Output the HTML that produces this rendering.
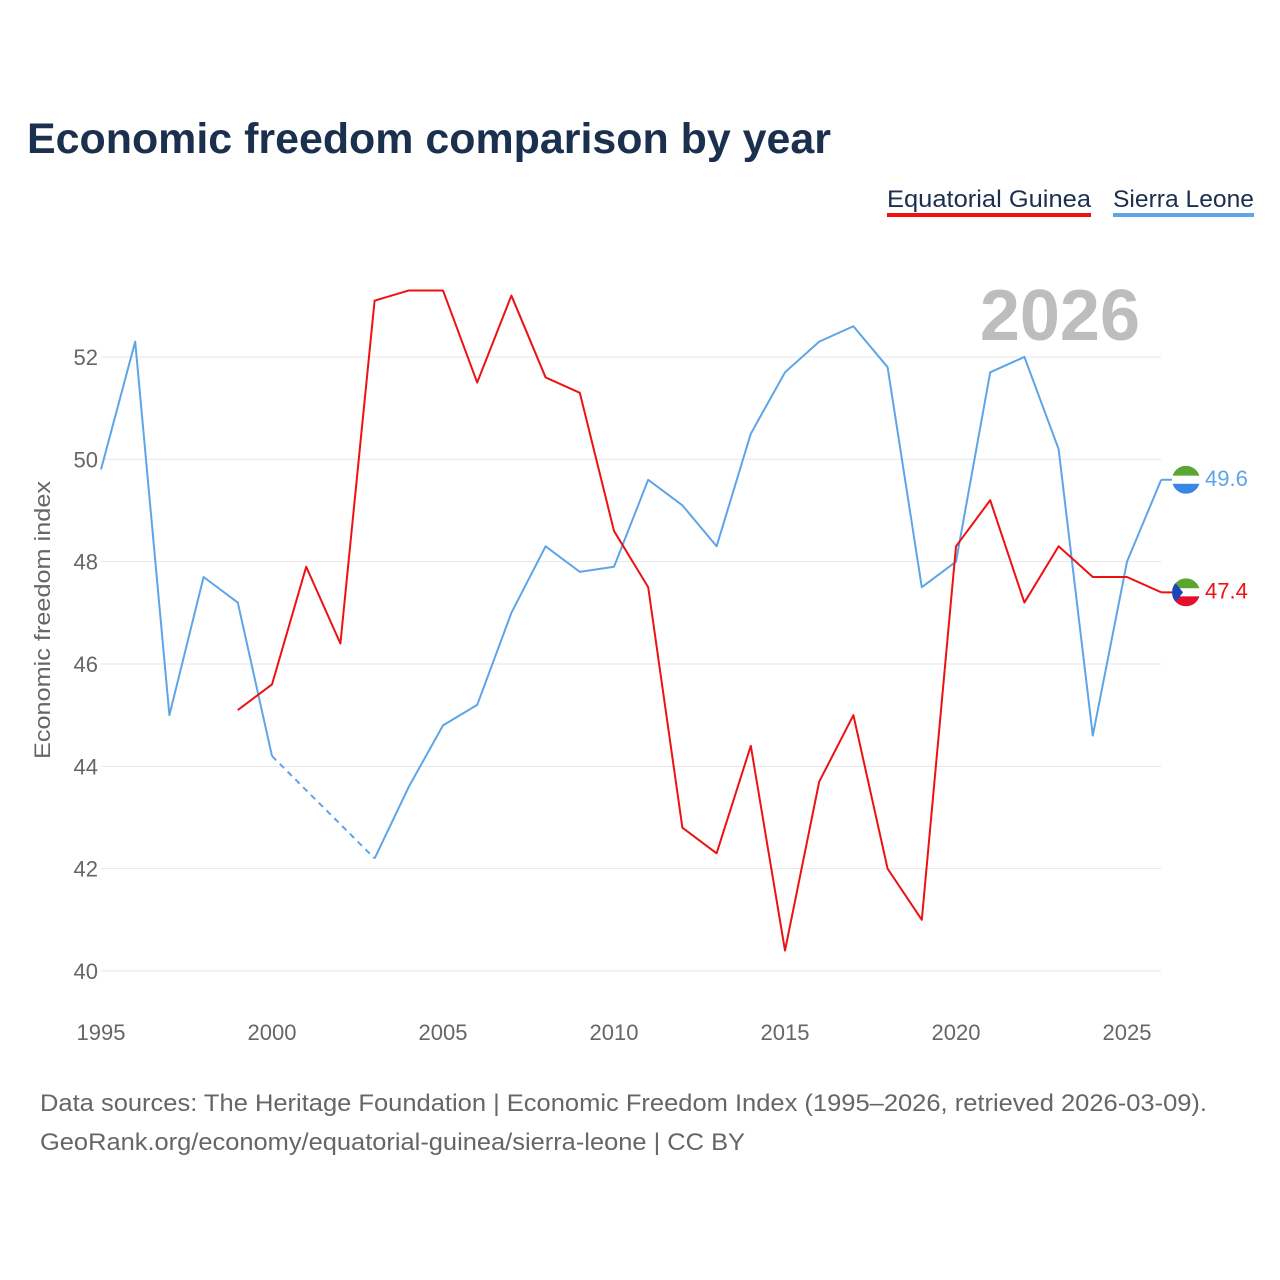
<!DOCTYPE html>
<html><head><meta charset="utf-8"><style>
body{margin:0;background:#fff;font-family:"Liberation Sans",sans-serif;}
#wrap{position:relative;width:1280px;height:1280px;overflow:hidden}
</style></head><body><div id="wrap">
<svg id="chart" width="1280" height="1280" font-family="Liberation Sans, sans-serif">
<text x="27" y="153" font-size="43" font-weight="bold" fill="#1b2f4e" textLength="804" lengthAdjust="spacingAndGlyphs">Economic freedom comparison by year</text>
<g><text x="887" y="207" font-size="24" fill="#1b2f4e" textLength="204" lengthAdjust="spacingAndGlyphs">Equatorial Guinea</text><rect x="887" y="213" width="204" height="4" fill="#ee1111"/></g>
<g><text x="1113" y="207" font-size="24" fill="#1b2f4e" textLength="141" lengthAdjust="spacingAndGlyphs">Sierra Leone</text><rect x="1113" y="213" width="141" height="4" fill="#5da5e8"/></g>
<text x="1140" y="340" font-size="72" font-weight="bold" fill="#bdbdbd" text-anchor="end">2026</text>
<text transform="translate(50,620) rotate(-90)" font-size="22" fill="#666" text-anchor="middle" textLength="278" lengthAdjust="spacingAndGlyphs">Economic freedom index</text>
<g id="grid"></g><g id="series"></g>
<text x="40" y="1111" font-size="24" fill="#666" textLength="1167" lengthAdjust="spacingAndGlyphs">Data sources: The Heritage Foundation | Economic Freedom Index (1995–2026, retrieved 2026-03-09).</text>
<text x="40" y="1150" font-size="24" fill="#666" textLength="705" lengthAdjust="spacingAndGlyphs">GeoRank.org/economy/equatorial-guinea/sierra-leone | CC BY</text>
</svg></div>
<script>
const years=[1995,1996,1997,1998,1999,2000,2001,2002,2003,2004,2005,2006,2007,2008,2009,2010,2011,2012,2013,2014,2015,2016,2017,2018,2019,2020,2021,2022,2023,2024,2025,2026];
const sierraLeone=[49.8,52.3,45.0,47.7,47.2,44.2,null,null,42.2,43.6,44.8,45.2,47.0,48.3,47.8,47.9,49.6,49.1,48.3,50.5,51.7,52.3,52.6,51.8,47.5,48.0,51.7,52.0,50.2,44.6,48.0,49.6];
const eqGuinea=[null,null,null,null,45.1,45.6,47.9,46.4,53.1,53.3,53.3,51.5,53.2,51.6,51.3,48.6,47.5,42.8,42.3,44.4,40.4,43.7,45.0,42.0,41.0,48.3,49.2,47.2,48.3,47.7,47.7,47.4];
const yTicks=[40,42,44,46,48,50,52];
const xTicks=[1995,2000,2005,2010,2015,2020,2025];
const NS="http://www.w3.org/2000/svg";
const x=y=>101+(y-1995)*34.2;
const yS=v=>971-(v-40)*51.17;
function mk(t,a,p){const e=document.createElementNS(NS,t);for(const k in a)e.setAttribute(k,a[k]);p.appendChild(e);return e;}
const grid=document.getElementById('grid'),ser=document.getElementById('series');
yTicks.forEach(v=>{
 const l=mk('line',{x1:101,x2:1161,y1:yS(v),y2:yS(v),stroke:'#e6e6e6','stroke-width':1},grid);
 
 
 const t=mk('text',{x:98,y:yS(v)+8,'font-size':22,fill:'#666','text-anchor':'end'},grid);t.textContent=v;
 
 
});
xTicks.forEach(yr=>{
 const t=mk('text',{x:x(yr),y:1040,'font-size':22,fill:'#666','text-anchor':'middle'},grid);t.textContent=yr;
 
 
});
function draw(vals,color,name){
 let segs=[],cur=[],prev=null;
 vals.forEach((v,i)=>{
  if(v==null){if(cur.length){segs.push(cur);cur=[];}return;}
  if(prev!=null&&i-prev>1&&cur.length===0&&segs.length){
   const p=segs[segs.length-1];const last=p[p.length-1];
   const d=mk('line',{x1:last[0],y1:last[1],x2:x(years[i]),y2:yS(v),stroke:color,'stroke-width':2,'stroke-dasharray':'6,5'},ser);
   
   
  }
  cur.push([x(years[i]),yS(v)]);prev=i;
 });
 if(cur.length)segs.push(cur);
 segs.forEach(s=>{
  const p=mk('polyline',{points:s.map(q=>q.join(',')).join(' '),fill:'none',stroke:color,'stroke-width':2,'stroke-linejoin':'round'},ser);
  
  
 });
}
draw(sierraLeone,'#5da5e8','sierra-leone');
draw(eqGuinea,'#ee1111','equatorial-guinea');
function endLabel(vals,color,name,flag){
 const v=vals[vals.length-1],cy=yS(v),cx=1186;
 const g=mk('g',{},ser);
 
 
 mk('line',{x1:x(years[years.length-1]),x2:cx,y1:cy,y2:cy,stroke:color,'stroke-width':2},g);
 const cp=mk('clipPath',{id:'c'+name},g);
 mk('circle',{cx:cx,cy:cy,r:14},cp);
 const f=mk('g',{'clip-path':'url(#c'+name+')'},g);
 flag(f,cx,cy);
 const t=mk('text',{x:1205,y:cy+6,'font-size':22,fill:color},g);t.textContent=v.toFixed(1);
}
endLabel(sierraLeone,'#5da5e8','sierra-leone',(f,cx,cy)=>{
 mk('rect',{x:cx-14,y:cy-14,width:28,height:10,fill:'#5ba532'},f);
 mk('rect',{x:cx-14,y:cy-4,width:28,height:8,fill:'#fff'},f);
 mk('rect',{x:cx-14,y:cy+4,width:28,height:10,fill:'#3a86e8'},f);
});
endLabel(eqGuinea,'#ee1111','equatorial-guinea',(f,cx,cy)=>{
 mk('rect',{x:cx-14,y:cy-14,width:28,height:10,fill:'#5ba532'},f);
 mk('rect',{x:cx-14,y:cy-4,width:28,height:8,fill:'#fff'},f);
 mk('rect',{x:cx-14,y:cy+4,width:28,height:10,fill:'#e3102b'},f);
 mk('polygon',{points:`${cx-14},${cy-14} ${cx-3},${cy} ${cx-14},${cy+14}`,fill:'#1a47b8'},f);
});
</script></body></html>
